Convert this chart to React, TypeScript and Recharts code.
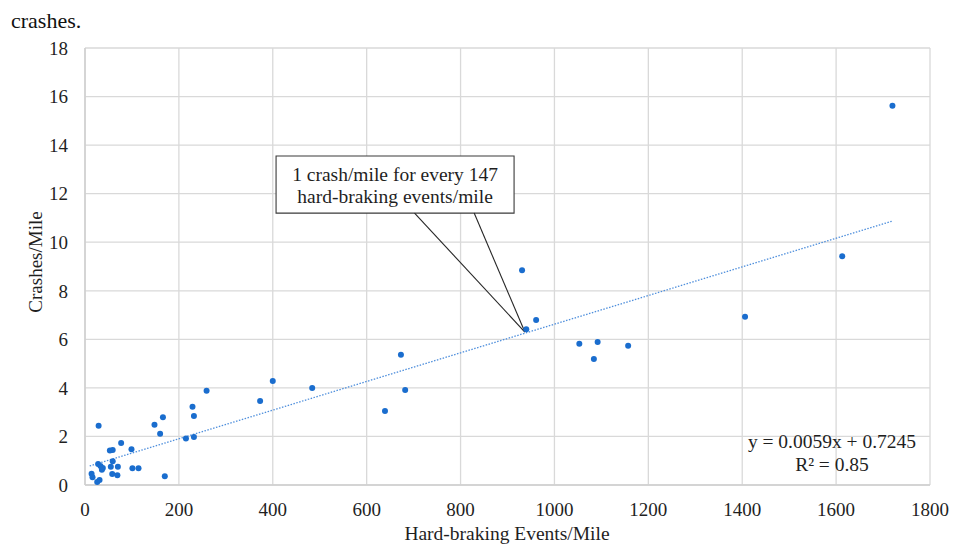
import {
  ScatterChart, Scatter, XAxis, YAxis, CartesianGrid, ReferenceLine, ReferenceArea,
} from 'recharts'

// hard-braking events per mile vs crashes per mile
const hardBraking = [
  1720, 1613, 1406, 1157, 1092, 1084, 1053, 961, 940, 931,
  682, 673, 639, 484, 400, 373, 259, 229, 232, 166,
  148, 160, 215, 232, 29, 77, 53, 59, 99, 170,
  28, 33, 38, 36, 59, 55, 70, 58, 69, 101,
  114, 14, 16, 26, 31,
]
const crashesPerMile = [
  15.62, 9.42, 6.93, 5.74, 5.89, 5.19, 5.82, 6.80, 6.42, 8.85,
  3.91, 5.36, 3.05, 4.00, 4.28, 3.46, 3.88, 3.22, 2.84, 2.79,
  2.48, 2.11, 1.92, 1.98, 2.44, 1.73, 1.42, 1.44, 1.47, 0.36,
  0.86, 0.78, 0.70, 0.63, 0.98, 0.75, 0.75, 0.45, 0.40, 0.69,
  0.69, 0.46, 0.32, 0.12, 0.21,
]

const X_TICKS = [0, 200, 400, 600, 800, 1000, 1200, 1400, 1600, 1800]
const Y_TICKS = [0, 2, 4, 6, 8, 10, 12, 14, 16, 18]

// linear trend (Excel) and the range it is drawn over
const TREND_SLOPE = 0.0059
const TREND_INTERCEPT = 0.7245
const TREND_X = [10, 1720]

// callout box and pointer, in data units
const CALLOUT_X = [407, 914]
const CALLOUT_Y = [11.2, 13.55]
const CALLOUT_FROM = [702, 829]
const CALLOUT_TIP = { x: 937, y: 6.3 }
const CALLOUT_LINES = ['1 crash/mile for every 147', 'hard-braking events/mile']

const points = hardBraking.map((x, i) => ({ x, y: crashesPerMile[i] }))
const trendSeg = TREND_X.map((x) => ({ x, y: TREND_SLOPE * x + TREND_INTERCEPT }))

const FONT = '"Liberation Serif", "Times New Roman", serif'
const GRID = '#d9d9d9'
const DOT = '#1a6dce'
const TEXT = '#1f1f1f'

// eslint-disable-next-line @typescript-eslint/no-explicit-any
function Dot({ cx, cy }: any) {
  return <circle cx={cx} cy={cy} r={3} fill={DOT} />
}

// eslint-disable-next-line @typescript-eslint/no-explicit-any
function CalloutText({ viewBox }: any) {
  const { x, y, width } = viewBox
  const cx = x + width / 2
  return (
    <text x={cx} textAnchor="middle" fontFamily={FONT} fontSize={19.5} fill={TEXT}>
      <tspan x={cx} y={y + 25}>{CALLOUT_LINES[0]}</tspan>
      <tspan x={cx} y={y + 47}>{CALLOUT_LINES[1]}</tspan>
    </text>
  )
}

export default function App() {
  const tick = { fill: TEXT, fontSize: 19, fontFamily: FONT }

  return (
    <div style={{ position: 'absolute', left: 0, top: 0, width: 953, height: 544, background: '#fff' }}>
      <ScatterChart width={953} height={544} margin={{ top: 48, right: 23, bottom: 29, left: 40 }}>
        <CartesianGrid stroke={GRID} strokeWidth={1.3} />
        <XAxis
          type="number"
          dataKey="x"
          domain={[0, 1800]}
          ticks={X_TICKS}
          height={30}
          tick={tick}
          tickLine={false}
          tickSize={0}
          tickMargin={18}
          axisLine={{ stroke: '#cfcfcf', strokeWidth: 1.5 }}
        />
        <YAxis
          type="number"
          dataKey="y"
          domain={[0, 18]}
          ticks={Y_TICKS}
          width={45}
          tick={tick}
          tickLine={false}
          tickSize={0}
          tickMargin={17}
          axisLine={{ stroke: '#cfcfcf', strokeWidth: 1.5 }}
        />
        <ReferenceLine
          segment={trendSeg}
          stroke="#4f8fdc"
          strokeWidth={1.3}
          strokeDasharray="1.5 1.5"
        />
        <Scatter data={points} shape={<Dot />} isAnimationActive={false} />
        {CALLOUT_FROM.map((fx) => (
          <ReferenceLine
            key={fx}
            segment={[{ x: fx, y: CALLOUT_Y[0] }, CALLOUT_TIP]}
            stroke="#262626"
            strokeWidth={1.1}
          />
        ))}
        <ReferenceArea
          x1={CALLOUT_X[0]}
          x2={CALLOUT_X[1]}
          y1={CALLOUT_Y[0]}
          y2={CALLOUT_Y[1]}
          fill="#fff"
          fillOpacity={1}
          stroke="#3a3a3a"
          strokeWidth={1.1}
          label={CalloutText}
        />
      </ScatterChart>

      <svg width={953} height={544} style={{ position: 'absolute', left: 0, top: 0, pointerEvents: 'none' }}>
        <text x={11} y={28} fontFamily={FONT} fontSize={22} fill="#111">crashes.</text>
        <text
          x={42}
          y={262}
          transform="rotate(-90, 42, 262)"
          textAnchor="middle"
          fontFamily={FONT}
          fontSize={19}
          fill={TEXT}
        >
          Crashes/Mile
        </text>
        <text x={507} y={540} textAnchor="middle" fontFamily={FONT} fontSize={19.5} fill={TEXT}>
          Hard-braking Events/Mile
        </text>
        <text textAnchor="middle" fontFamily={FONT} fontSize={19.5} fill={TEXT}>
          <tspan x={832} y={448}>y = 0.0059x + 0.7245</tspan>
          <tspan x={832} y={471}>R² = 0.85</tspan>
        </text>
      </svg>
    </div>
  )
}
